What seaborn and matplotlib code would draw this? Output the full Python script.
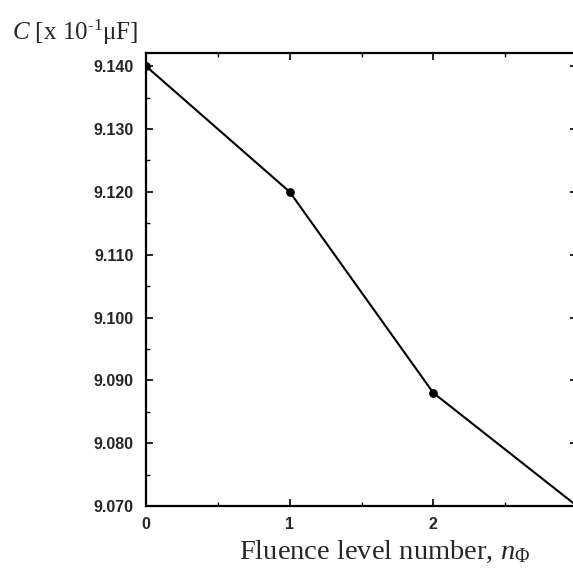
import matplotlib
matplotlib.use("Agg")
import matplotlib.pyplot as plt
from matplotlib.ticker import MultipleLocator, FormatStrFormatter
import seaborn as sns
import pandas as pd

# data
fluence_level = [0, 1, 2, 3]
capacitance = [9.140, 9.120, 9.088, 9.070]
x_ticks = [0, 1, 2]
y_ticks = [9.070, 9.080, 9.090, 9.100, 9.110, 9.120, 9.130, 9.140]

sns.set_style("ticks")
plt.rcParams['font.family'] = ['Liberation Sans', 'DejaVu Sans']
plt.rcParams['mathtext.fontset'] = 'custom'
plt.rcParams['mathtext.rm'] = 'Liberation Serif'
plt.rcParams['mathtext.it'] = 'Liberation Serif:italic'
plt.rcParams['mathtext.bf'] = 'Liberation Serif:bold'

df = pd.DataFrame({"n": fluence_level, "C": capacitance})

fig = plt.figure(figsize=(5.73, 5.68), dpi=100)
W, H = 573, 568
left, right, top, bottom = 146, 577, 53, 506
ax = fig.add_axes([left / W, 1 - bottom / H, (right - left) / W, (bottom - top) / H])

sns.lineplot(data=df, x="n", y="C", ax=ax, color="black", linewidth=1.5,
             marker="o", markersize=5.5, markeredgecolor="black",
             markerfacecolor="black", clip_on=True)

ax.set_xlim(0, 3)
ax.set_ylim(9.070, 9.1421)
ax.set_xticks(x_ticks)
ax.set_yticks(y_ticks)
ax.xaxis.set_minor_locator(MultipleLocator(0.5))
ax.yaxis.set_minor_locator(MultipleLocator(0.005))
ax.yaxis.set_major_formatter(FormatStrFormatter('%.3f'))

for s in ax.spines.values():
    s.set_linewidth(1.6)
    s.set_color("black")
ax.tick_params(which="both", direction="in", top=True, right=True, color="black")
ax.tick_params(which="major", length=5, width=1.2, pad=9, labelsize=11.5)
ax.tick_params(which="minor", length=3, width=1.0)
ax.tick_params(axis="x", which="major", pad=8)
for lab in ax.get_xticklabels() + ax.get_yticklabels():
    lab.set_fontweight("bold")

ax.set_xlabel(r"Fluence level number, $n_{\Phi}$", fontsize=20.5,
              family="Liberation Serif")
ax.xaxis.set_label_coords(0.553, -0.072)
ax.set_ylabel(r"$C$ [x 10$^{\text{-}1}$μF]", fontsize=18,
              family="Liberation Serif", rotation=0, ha="left", va="center")
ax.yaxis.set_label_coords(-0.311, 1.046)

fig.savefig("out.png", dpi=100)
